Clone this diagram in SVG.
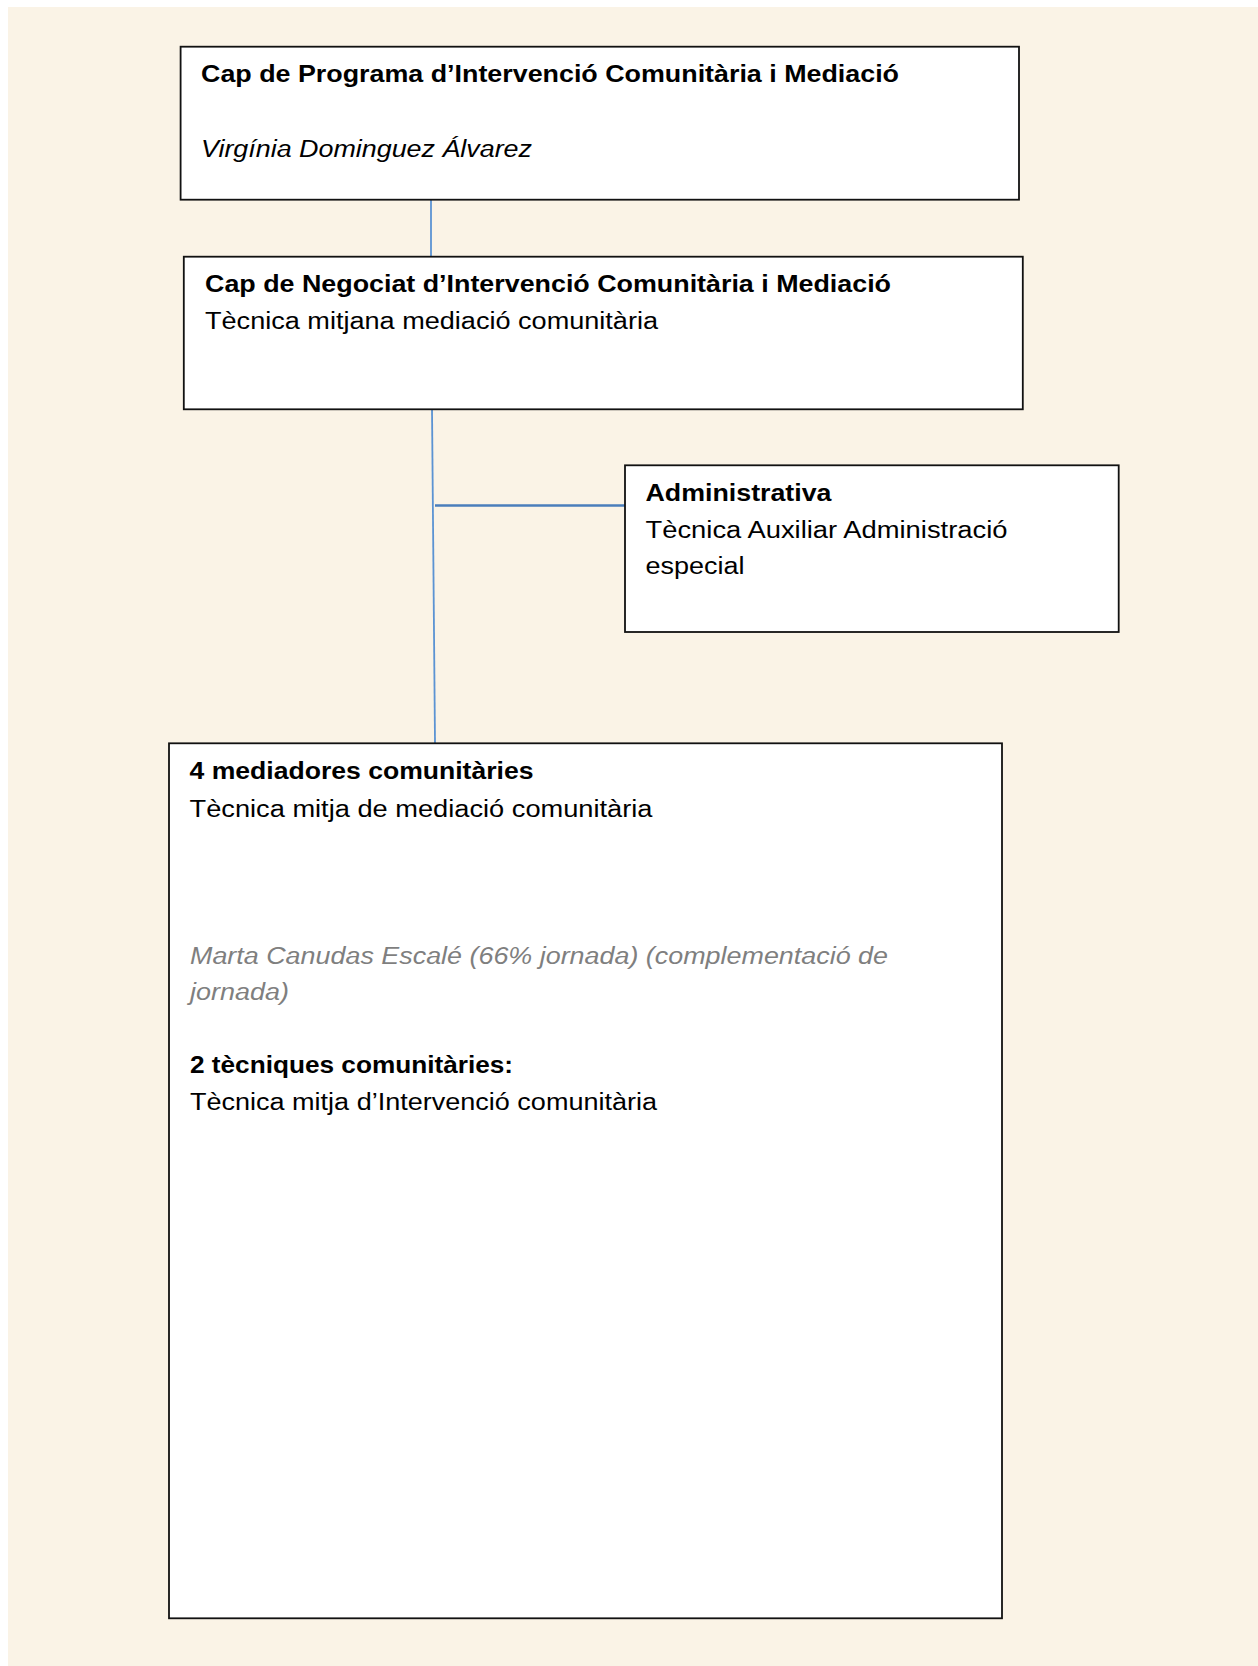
<svg xmlns="http://www.w3.org/2000/svg" width="1258" height="1666" viewBox="0 0 1258 1666">
<style>
.box{fill:#ffffff;stroke:#111111;stroke-width:1.8}
.t{font-family:"Liberation Sans",Arial,sans-serif;font-size:23px;fill:#000}
.b{font-weight:bold}
.i{font-style:italic}
.g{fill:#7f7f7f}
.conn{stroke:#5b93d3;stroke-width:1.8;fill:none}
</style>
<rect x="0" y="0" width="1258" height="1666" fill="#ffffff"/>
<rect x="8" y="7" width="1250" height="1659" fill="#faf3e6"/>
<g id="connectors">
<line class="conn" x1="431" y1="200" x2="431" y2="256"/>
<line class="conn" x1="432" y1="409" x2="435" y2="743"/>
<line class="conn" x1="435" y1="505.5" x2="625" y2="505.5" style="stroke:#4a7ebb;stroke-width:2.4"/>
</g>
<g id="node-cap-programa">
<rect class="box" x="180.6" y="46.7" width="838.4" height="153"/>
<text class="t b" x="201" y="82" textLength="698" lengthAdjust="spacingAndGlyphs">Cap de Programa d’Intervenció Comunitària i Mediació</text>
<text class="t i" x="201" y="157" textLength="331" lengthAdjust="spacingAndGlyphs">Virgínia Dominguez Álvarez</text>
</g>
<g id="node-cap-negociat">
<rect class="box" x="183.8" y="256.7" width="839" height="152.6"/>
<text class="t b" x="205" y="292" textLength="686" lengthAdjust="spacingAndGlyphs">Cap de Negociat d’Intervenció Comunitària i Mediació</text>
<text class="t" x="205" y="329" textLength="453" lengthAdjust="spacingAndGlyphs">Tècnica mitjana mediació comunitària</text>
</g>
<g id="node-administrativa">
<rect class="box" x="625" y="465.3" width="493.7" height="166.7"/>
<text class="t b" x="645.5" y="501" textLength="186" lengthAdjust="spacingAndGlyphs">Administrativa</text>
<text class="t" x="645.5" y="537.5" textLength="362" lengthAdjust="spacingAndGlyphs">Tècnica Auxiliar Administració</text>
<text class="t" x="645.5" y="573.5" textLength="99" lengthAdjust="spacingAndGlyphs">especial</text>
</g>
<g id="node-mediadores">
<rect class="box" x="169" y="743.3" width="833" height="875"/>
<text class="t b" x="189.5" y="779" textLength="344" lengthAdjust="spacingAndGlyphs">4 mediadores comunitàries</text>
<text class="t" x="189.5" y="816.5" textLength="463" lengthAdjust="spacingAndGlyphs">Tècnica mitja de mediació comunitària</text>
<text class="t i g" x="190" y="964" textLength="698" lengthAdjust="spacingAndGlyphs">Marta Canudas Escalé (66% jornada) (complementació de</text>
<text class="t i g" x="190" y="1000" textLength="99" lengthAdjust="spacingAndGlyphs">jornada)</text>
<text class="t b" x="190" y="1073" textLength="323" lengthAdjust="spacingAndGlyphs">2 tècniques comunitàries:</text>
<text class="t" x="190" y="1110" textLength="467" lengthAdjust="spacingAndGlyphs">Tècnica mitja d’Intervenció comunitària</text>
</g>
</svg>
